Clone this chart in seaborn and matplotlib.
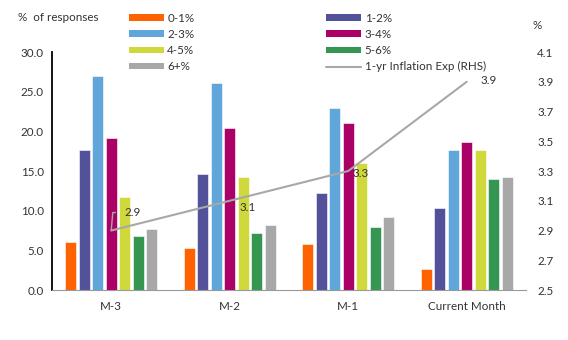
import matplotlib
matplotlib.use("Agg")
import matplotlib.pyplot as plt
from matplotlib.patches import Patch
from matplotlib.lines import Line2D
import numpy as np
import pandas as pd
import seaborn as sns

months = ["M-3", "M-2", "M-1", "Current Month"]
buckets = ["0-1%", "1-2%", "2-3%", "3-4%", "4-5%", "5-6%", "6+%"]
share_0_1 = [6.0, 5.3, 5.8, 2.7]
share_1_2 = [17.7, 14.6, 12.2, 10.4]
share_2_3 = [27.0, 26.1, 23.0, 17.6]
share_3_4 = [19.2, 20.4, 21.1, 18.7]
share_4_5 = [11.7, 14.2, 16.0, 17.7]
share_5_6 = [6.8, 7.2, 8.0, 14.0]
share_6p = [7.7, 8.2, 9.2, 14.3]
inflation_exp = [2.9, 3.1, 3.3, 3.9]
line_label = "1-yr Inflation Exp (RHS)"

colors = ["#FF6200", "#525199", "#60A6DA", "#AB0066", "#D0D93C", "#349651", "#A8A8A8"]
line_color = "#A8A8A8"
text_color = "#333333"
fs = 8.4

sns.set_theme(style="white")
plt.rcParams["font.family"] = ["Lato", "DejaVu Sans"]
plt.rcParams["font.size"] = fs

series = [share_0_1, share_1_2, share_2_3, share_3_4, share_4_5, share_5_6, share_6p]
df = pd.DataFrame(
    [(m, b, v[i]) for b, v in zip(buckets, series) for i, m in enumerate(months)],
    columns=["month", "bucket", "value"],
)

fig = plt.figure(figsize=(5.68, 3.40), dpi=100)
ax = fig.add_axes([0.0915, 0.147, 0.8345, 0.70])

sns.barplot(data=df, x="month", y="value", hue="bucket", order=months,
            hue_order=buckets, palette=colors, width=0.8, gap=0.18,
            edgecolor="white", linewidth=0.4, saturation=1, legend=False, ax=ax)

ax.set_xlim(-0.5, 3.5)
ax.set_ylim(0, 30)
ax.set_yticks(np.arange(0, 30.1, 5))
ax.set_yticklabels([f"{v:.1f}" for v in np.arange(0, 30.1, 5)])
ax.set_xlabel("")
ax.set_ylabel("")
ax.set_xticks(np.arange(-0.5, 3.6, 1), minor=True)
ax.tick_params(axis="x", which="major", length=0, pad=8, labelsize=fs, colors=text_color)
ax.tick_params(axis="x", which="minor", length=4, width=0.8, color="#999999", direction="out")
ax.tick_params(axis="y", length=0, pad=6, labelsize=fs, colors=text_color)
for s in ["top", "right"]:
    ax.spines[s].set_visible(False)
ax.spines["left"].set_color("black")
ax.spines["left"].set_linewidth(1.3)
ax.spines["bottom"].set_color("#999999")
ax.spines["bottom"].set_linewidth(0.8)

ax2 = ax.twinx()
sns.lineplot(x=np.arange(len(months)), y=inflation_exp, color=line_color,
             linewidth=1.5, ax=ax2)
ax2.set_ylim(2.5, 4.1)
rticks = np.arange(2.5, 4.11, 0.2)
ax2.set_yticks(rticks)
ax2.set_yticklabels([f"{v:.1f}" for v in rticks])
ax2.tick_params(axis="y", length=0, pad=8, labelsize=fs, colors=text_color)
for s in ["top", "right", "left", "bottom"]:
    ax2.spines[s].set_visible(False)

offsets = [(13, 18), (10, -7), (4, -2), (14, 1)]
for i, (v, off) in enumerate(zip(inflation_exp, offsets)):
    kw = {}
    if i == 0:
        kw["arrowprops"] = dict(arrowstyle="-", color=line_color, lw=1.0,
                                connectionstyle="angle,angleA=0,angleB=85,rad=0",
                                shrinkA=4, shrinkB=0)
    ax2.annotate(f"{v:.1f}", xy=(i, v), xytext=off, textcoords="offset pixels",
                 ha="left", va="center", fontsize=fs, color=text_color, **kw)

fig.text(0.032, 0.948, "%  of responses", fontsize=fs, color=text_color, va="center")
fig.text(0.937, 0.925, "%", fontsize=fs, color=text_color, va="center")

order = [0, 2, 4, 6, 1, 3, 5]
handles = [Patch(facecolor=colors[i], edgecolor="none") for i in order]
labels = [buckets[i] for i in order]
handles.append(Line2D([0], [0], color=line_color, lw=1.5))
labels.append(line_label)
fig.legend(handles, labels, loc="upper left", bbox_to_anchor=(0.208, 0.994),
           ncol=2, frameon=False, fontsize=fs, handlelength=3.0, handleheight=0.5,
           handletextpad=0.3, labelspacing=0.45, columnspacing=11.3,
           labelcolor=text_color)

fig.savefig("out.png", dpi=100)
